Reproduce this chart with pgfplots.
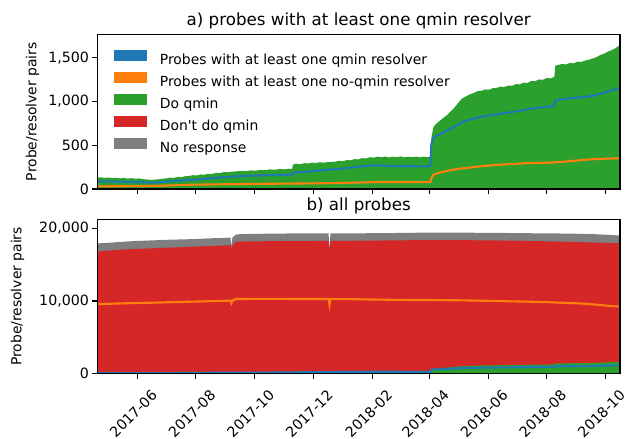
\documentclass[border=0pt]{standalone}
\usepackage{pgfplots}
\pgfplotsset{compat=1.18}
\usepackage{pgfplotstable}
\usepackage{fontspec}
\setmainfont{DejaVu Sans}[Ligatures=TeXOff]
\definecolor{c0}{HTML}{1F77B4}
\definecolor{c1}{HTML}{FF7F0E}
\definecolor{c2}{HTML}{2CA02C}
\definecolor{c3}{HTML}{D62728}
\definecolor{c7}{HTML}{7F7F7F}

% d = days since 2017-06-01
\pgfplotstableread{
d G B O Rt Gt Ob
-42 128 86 30 16800 17900 9580
-38 134 88 31 16850 17950 9590
-34 126 86 30 16890 17980 9600
-30 131 85 31 16930 18010 9620
-26 124 84 32 16960 18040 9630
-22 129 84 31 17010 18090 9650
-18 121 83 31 17040 18120 9660
-14 127 82 33 17060 18150 9680
-10 119 81 32 17100 18190 9700
-6 124 80 32 17130 18220 9710
-2 117 80 33 17160 18250 9720
2 121 79 33 17180 18270 9730
6 112 77 34 17200 18290 9740
10 109 75 34 17220 18310 9750
14 103 73 35 17240 18330 9760
18 107 74 36 17260 18350 9780
22 111 77 37 17290 18380 9790
26 118 80 38 17310 18400 9800
30 121 85 40 17330 18420 9820
34 129 88 41 17350 18430 9830
38 127 91 42 17370 18450 9850
42 138 95 44 17390 18460 9860
46 136 97 45 17410 18470 9870
50 146 101 47 17430 18490 9890
54 149 103 48 17450 18500 9900
58 158 106 49 17470 18510 9910
62 155 108 50 17490 18530 9930
66 166 112 50 17510 18560 9940
70 164 116 51 17530 18590 9950
74 174 120 51 17550 18610 9970
78 173 123 52 17570 18630 9980
82 183 127 53 17590 18650 9990
86 181 131 53 17610 18670 10010
90 193 135 54 17640 18690 10030
94 191 138 55 17670 18710 10040
97 198 140 55 17680 18720 10050
98 196 141 55 17250 17480 9700
99 199 142 55 17680 18720 10050
103 201 144 56 18170 19170 10280
108 208 147 57 18180 19190 10280
113 204 150 57 18190 19210 10280
118 213 152 58 18200 19220 10290
123 209 154 59 18210 19230 10290
128 219 155 59 18210 19240 10290
133 214 157 60 18220 19260 10300
138 224 158 60 18220 19260 10300
143 219 159 60 18230 19270 10290
148 229 160 61 18240 19280 10290
153 224 162 61 18240 19280 10290
158 232 163 62 18240 19290 10280
161 229 164 62 18240 19300 10280
162 280 186 63 18250 19300 10280
166 289 189 63 18250 19300 10280
170 284 192 63 18250 19300 10280
174 295 196 64 18250 19310 10280
178 291 200 64 18250 19310 10280
182 301 204 65 18260 19310 10280
186 297 208 65 18260 19310 10280
190 306 212 66 18260 19310 10280
194 301 216 66 18260 19310 10280
199 308 220 67 18260 19310 10280
200 305 221 67 16950 17020 9450
201 310 222 67 18260 19310 10280
206 312 226 68 18260 19310 10270
210 322 230 69 18260 19310 10270
214 318 234 70 18270 19310 10260
218 330 239 71 18280 19310 10250
222 328 244 72 18280 19310 10250
226 341 249 73 18290 19320 10240
230 339 254 74 18290 19320 10240
234 352 259 75 18300 19320 10230
238 350 264 76 18300 19320 10220
242 363 267 77 18310 19330 10210
246 359 270 78 18310 19330 10200
250 370 269 79 18320 19340 10190
254 362 268 79 18320 19340 10180
258 371 266 78 18330 19340 10180
262 361 265 78 18330 19350 10170
266 370 263 79 18340 19350 10160
270 363 262 79 18340 19360 10160
274 372 261 78 18350 19370 10150
278 362 260 78 18350 19370 10150
282 369 260 79 18360 19380 10140
286 363 260 79 18360 19380 10140
290 371 259 78 18370 19390 10140
294 362 259 78 18370 19390 10140
298 370 259 78 18380 19390 10140
302 364 259 78 18380 19390 10140
305 372 262 80 18390 19400 10140
306 585 510 120 18390 19400 10140
308 700 585 160 18390 19400 10130
310 735 600 170 18390 19400 10130
314 772 620 185 18390 19400 10120
318 808 640 195 18390 19400 10120
322 842 665 205 18390 19400 10110
326 885 690 215 18380 19400 10110
330 930 715 222 18380 19400 10100
334 985 740 230 18380 19400 10100
338 1035 762 235 18370 19390 10090
342 1058 780 240 18370 19390 10080
346 1082 792 245 18360 19390 10070
350 1096 805 250 18360 19390 10060
354 1118 815 255 18350 19380 10050
358 1122 825 260 18350 19380 10040
362 1138 833 264 18340 19380 10030
366 1134 840 268 18340 19380 10020
370 1152 848 272 18330 19370 10010
374 1155 855 275 18330 19370 10000
378 1170 862 278 18320 19360 9990
382 1166 868 280 18320 19360 9980
386 1182 874 283 18310 19350 9960
390 1180 880 285 18300 19350 9950
394 1198 888 288 18290 19340 9940
398 1196 895 290 18280 19340 9930
402 1215 902 293 18270 19330 9920
406 1212 910 295 18260 19330 9910
410 1235 918 297 18250 19320 9900
414 1232 925 298 18240 19320 9880
418 1252 930 299 18230 19310 9870
422 1248 935 300 18220 19310 9850
426 1268 940 301 18210 19300 9840
430 1264 945 302 18200 19300 9820
434 1282 950 303 18190 19300 9800
435 1410 1012 305 18180 19290 9790
438 1418 1018 307 18180 19290 9780
442 1428 1025 310 18160 19280 9760
446 1424 1030 314 18150 19280 9740
450 1440 1035 318 18140 19270 9720
454 1436 1040 322 18120 19260 9700
458 1455 1045 326 18110 19250 9680
462 1452 1048 330 18100 19240 9650
466 1468 1052 334 18080 19230 9620
470 1478 1058 337 18070 19220 9580
474 1492 1065 340 18050 19200 9540
478 1508 1078 342 18040 19180 9490
482 1532 1090 344 18020 19150 9440
486 1548 1102 346 18000 19130 9390
490 1572 1115 347 17990 19100 9340
494 1588 1128 348 17980 19070 9300
498 1612 1140 350 17960 19040 9260
503 1652 1160 352 17940 18980 9220
}\data

\pgfplotsset{
  common/.style={
    scale only axis, width=522.7pt,
    xmin=-41.6, xmax=502.3, ymin=0,
    xtick={0,61,122,183,245,304,365,426,487},
    tick align=outside, tick pos=left,
    major tick length=4.86pt,
    every tick/.style={black, line width=1.1pt},
    axis line style={line width=1.1pt},
    /pgf/number format/assume math mode=true,
    scaled y ticks=false,
    tick label style={font=\fontsize{14.2}{16}\selectfont},
    label style={font=\fontsize{13.9}{16}\selectfont},
    ylabel={Probe/resolver pairs},
    title style={font=\fontsize{16.7}{20}\selectfont, at={(0.5,1)}, anchor=base, yshift=2.5pt},
    axis on top,
  },
}

\newcommand{\patch}[1]{\addlegendimage{legend image code/.code={\fill[#1] (0pt,-0.5pt) rectangle (31pt,9.5pt);}}}

\begin{document}
\begin{tikzpicture}
\useasboundingbox (0,0) rectangle (630pt,439pt);
\begin{axis}[common,
  at={(97.3pt,250pt)}, anchor=south west,
  height=154.7pt, ymax=1768,
  ytick={0,500,1000,1500},
  xticklabels={},
  ylabel shift=2pt,
  title={a) probes with at least one qmin resolver},
  legend style={at={(0,1)}, anchor=north west, xshift=14pt, yshift=-14pt,
    draw=none, fill=none, font=\fontsize{13.9}{16}\selectfont, row sep=4.2pt,
    nodes={inner xsep=0pt}, column sep=0pt,
    /tikz/every odd column/.append style={column sep=14pt}},
  legend cell align=left,
]
\addplot[fill=c2, draw=none, forget plot] table[x=d,y=G]{\data} \closedcycle;
\addplot[c0, line width=2.1pt, forget plot] table[x=d,y=B]{\data};
\addplot[c1, line width=2.1pt, forget plot] table[x=d,y=O]{\data};
\patch{c0}
\addlegendentry{Probes with at least one qmin resolver}
\patch{c1}
\addlegendentry{Probes with at least one no-qmin resolver}
\patch{c2}
\addlegendentry{Do qmin}
\patch{c3}
\addlegendentry{Don't do qmin}
\patch{c7}
\addlegendentry{No response}
\end{axis}

\begin{axis}[common,
  at={(97.3pt,65.3pt)}, anchor=south west,
  height=154.4pt, ymax=21240,
  ytick={0,10000,20000},
  ylabel shift=8pt,
  xticklabels={2017-06,2017-08,2017-10,2017-12,2018-02,2018-04,2018-06,2018-08,2018-10},
  xticklabel style={xshift=-4pt, yshift=-35pt, rotate=45, anchor=center, inner sep=0pt},
  title={b) all probes},
]
\addplot[fill=c7, draw=none] table[x=d,y=Gt]{\data} \closedcycle;
\addplot[fill=c3, draw=none] table[x=d,y=Rt]{\data} \closedcycle;
\addplot[fill=c2, draw=none] table[x=d,y=G]{\data} \closedcycle;
\addplot[c0, line width=2.1pt] table[x=d,y=B]{\data};
\addplot[c1, line width=2.1pt] table[x=d,y=Ob]{\data};
\end{axis}
\end{tikzpicture}
\end{document}
